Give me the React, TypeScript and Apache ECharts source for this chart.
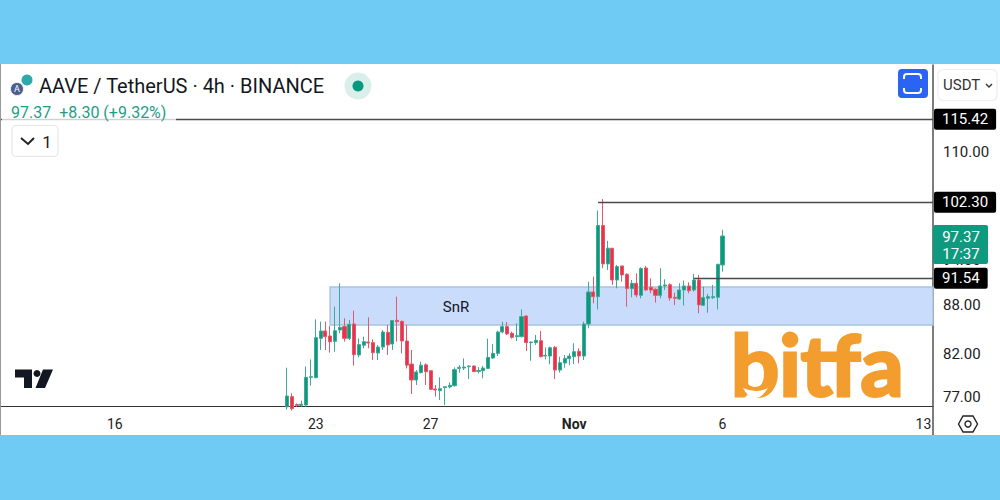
import React, { useEffect, useRef } from "react";
import * as echarts from "echarts";

const FONT = "Roboto, sans-serif";
const GREEN = "#0a9a80";
const RED = "#ee2f47";
const GREEN_WICK = "#3fa996";
const RED_WICK = "#e2596c";

const tickLabels: Record<number, string> = { 24: "16", 66: "23", 90: "27", 120: "Nov", 151: "6", 193: "13" };
const slotCount = 196;
const firstCandleSlot = 60;
const categories = Array.from({ length: slotCount }, (_, i) => tickLabels[i] ?? "");

const priceTicks = [77, 82, 88, 94, 110];
const levelAll = 115.42;
const levelHigh = 102.3;
const levelMid = 91.54;
const zoneTop = 90.4;
const zoneBottom = 85.52;
const zoneStartSlot = 69;
const levelHighSlot = 125;
const levelMidSlot = 145;

const opens = [75.9, 77.04, 76.15, 76.05, 76.1, 79.24, 79.2, 83.87, 84.78, 84.16, 83.51, 84.9, 85.32, 83.87, 85.65, 81.86, 83.03, 83.43, 83.35, 82.1, 82.82, 84.61, 83.19, 86.11, 85.98, 83.55, 80.79, 78.93, 79.78, 80.7, 80.01, 77.9, 77.71, 78.06, 78.13, 78.28, 80.28, 80.32, 80.48, 80.56, 79.92, 80.01, 80.28, 81.5, 82.06, 84.65, 85.32, 84.49, 84.08, 84.08, 86.65, 83.35, 83.35, 83.59, 81.74, 81.74, 82.78, 80.09, 80.91, 81.42, 81.66, 82.3, 81.74, 85.65, 89.74, 89.13, 98.87, 93.49, 95.65, 91.32, 93.21, 92.09, 90.18, 90.88, 89.3, 92.94, 90.35, 90.09, 89.3, 90.53, 90.7, 89.05, 88.83, 90.0, 90.53, 90.0, 91.32, 88.02, 88.92, 89.0, 89.05, 93.35];
const closes = [77.11, 75.7, 76.05, 76.2, 79.24, 79.32, 83.96, 84.78, 84.08, 83.47, 84.82, 85.23, 83.87, 85.61, 81.9, 83.11, 83.47, 83.31, 82.14, 82.82, 84.65, 83.07, 86.07, 85.94, 83.55, 80.66, 78.93, 79.86, 80.66, 79.9, 77.87, 77.79, 77.94, 78.17, 78.32, 80.13, 80.4, 80.44, 80.56, 79.9, 80.02, 80.32, 81.58, 82.06, 84.65, 85.32, 84.41, 84.0, 84.2, 86.57, 83.35, 83.43, 83.63, 81.66, 81.82, 82.74, 80.09, 80.95, 81.46, 81.74, 82.26, 81.74, 85.65, 89.74, 89.13, 98.87, 93.49, 95.65, 91.32, 93.12, 92.0, 90.18, 90.88, 89.35, 92.85, 90.0, 90.0, 89.3, 90.53, 90.66, 88.96, 88.92, 90.0, 90.53, 89.91, 91.32, 88.06, 89.0, 89.13, 89.13, 93.44, 97.37];
const lows = [75.6, 75.5, 75.9, 75.9, 75.9, 78.28, 79.12, 82.46, 82.46, 82.14, 82.26, 84.49, 83.47, 83.67, 80.6, 81.58, 82.66, 82.66, 81.26, 81.26, 82.46, 81.86, 82.46, 83.47, 82.06, 80.28, 77.34, 78.36, 79.7, 78.36, 77.79, 77.04, 76.66, 76.1, 77.98, 78.17, 79.78, 80.09, 79.04, 79.86, 79.7, 79.12, 80.2, 81.42, 81.74, 84.49, 84.28, 83.83, 83.55, 84.0, 82.34, 81.18, 83.07, 81.58, 81.34, 80.75, 79.04, 79.78, 80.36, 80.66, 80.79, 80.87, 81.26, 85.11, 88.27, 87.5, 92.9, 92.67, 90.66, 90.22, 91.1, 87.84, 89.05, 89.05, 88.92, 89.91, 89.57, 88.36, 88.92, 90.0, 88.6, 88.06, 88.7, 87.97, 89.57, 89.78, 87.0, 87.93, 87.07, 88.83, 87.5, 92.45];
const highs = [80.36, 77.41, 76.29, 76.59, 80.48, 81.34, 86.23, 85.94, 85.94, 85.4, 87.84, 90.88, 86.36, 86.15, 87.33, 83.87, 84.08, 86.48, 83.75, 83.07, 84.9, 85.53, 86.15, 89.13, 86.07, 85.53, 82.46, 80.09, 81.07, 80.87, 80.01, 78.36, 79.24, 78.17, 78.66, 80.4, 80.66, 81.46, 80.63, 80.6, 80.44, 80.56, 83.83, 83.19, 84.82, 85.94, 85.9, 84.7, 85.73, 87.49, 86.73, 83.47, 84.29, 84.78, 82.78, 82.86, 82.94, 81.66, 81.86, 82.06, 83.27, 82.66, 85.94, 91.1, 91.77, 101.06, 102.76, 96.68, 95.65, 93.35, 93.21, 92.22, 91.32, 92.22, 93.03, 93.21, 91.55, 90.22, 92.9, 91.41, 90.88, 89.65, 90.88, 91.23, 91.01, 92.13, 92.0, 90.44, 89.48, 90.66, 93.49, 98.25];

const candleData = opens.map((o, i) => [firstCandleSlot + i, o, closes[i], lows[i], highs[i]]);

const titleText = "AAVE / TetherUS · 4h · BINANCE";
const quoteText = "97.37  +8.30 (+9.32%)";
const currentPrice = "97.37";
const countdown = "17:37";

echarts.graphic.registerShape(
  "brackets",
  echarts.graphic.extendPath(
    "M904 79 V77 Q904 74 907 74 H918 Q921 74 921 77 V79 M904 88 V90 Q904 93 907 93 H918 Q921 93 921 90 V88",
    {}
  )
);
echarts.graphic.registerShape(
  "tvmark",
  echarts.graphic.extendPath(
    "M15 369.5 H32 V388 H24 V377.5 H15 Z M43 369.5 H53 L45 388 H35.5 Z M37 370 A3.5 3.5 0 1 1 36.99 370 Z",
    {}
  )
);
echarts.graphic.registerShape(
  "smile",
  echarts.graphic.extendPath("M743 388 Q756 394 768 388 Q762 398 755 398 Q748 398 743 388 Z", {})
);

const tag = (text: string) => ({
  formatter: text,
  position: "end" as const,
  distance: 1,
  color: "#fff",
  backgroundColor: "#000",
  fontFamily: FONT,
  fontSize: 15,
  padding: [3, 8, 3, 8],
  borderRadius: 2,
});

const hLine = { color: "#4a4a4a", width: 1.4, type: "solid" as const };

function buildOption() {
  return {
    animation: false,
    backgroundColor: "transparent",
    grid: { left: 0, width: 933, top: 65, height: 341.5 },
    xAxis: {
      type: "category",
      data: categories,
      boundaryGap: false,
      axisLine: { show: true, lineStyle: { color: "#333", width: 1.2 } },
      axisTick: { show: false },
      splitLine: { show: false },
      axisLabel: {
        interval: (i: number) => tickLabels[i] !== undefined,
        margin: 10,
        fontFamily: FONT,
        fontSize: 14,
        color: "#222",
        formatter: (v: string) => (v === "Nov" ? "{b|Nov}" : v),
        rich: { b: { fontWeight: "bold", fontFamily: FONT, fontSize: 14, color: "#222" } },
      },
    },
    yAxis: {
      type: "log",
      logBase: 10,
      position: "right",
      min: 75.94,
      max: 124.94,
      axisLine: { show: true, onZero: false, lineStyle: { color: "#5c5c5c", width: 1.6 } },
      axisTick: { show: false },
      splitLine: { show: false },
      minorTick: { show: false },
      axisLabel: {
        customValues: priceTicks,
        margin: 10,
        align: "left",
        fontFamily: FONT,
        fontSize: 15,
        padding: [3, 0, 0, 0],
        color: "#222",
        formatter: (v: number) => v.toFixed(2),
      },
    },
    series: [
      {
        type: "candlestick",
        barWidth: 3.6,
        encode: { x: 0, y: [1, 2, 3, 4] },
        data: candleData,
        itemStyle: { color: GREEN, color0: RED, borderColor: GREEN_WICK, borderColor0: RED_WICK, borderWidth: 1 },
        markArea: {
          silent: true,
          itemStyle: { color: "#c9dcfb", borderColor: "#a8c2df", borderWidth: 1.5 },
          data: [[{ xAxis: zoneStartSlot, yAxis: zoneTop }, { xAxis: slotCount - 1, yAxis: zoneBottom }]],
        },
        markLine: {
          silent: true,
          symbol: "none",
          lineStyle: hLine,
          data: [
            [
              { coord: [0, levelAll], label: tag(levelAll.toFixed(2)) },
              { coord: [slotCount - 1, levelAll] },
            ],
            [
              { coord: [levelHighSlot, levelHigh], label: tag(levelHigh.toFixed(2)) },
              { coord: [slotCount - 1, levelHigh] },
            ],
            [
              { coord: [levelMidSlot, levelMid], label: tag(levelMid.toFixed(2)) },
              { coord: [slotCount - 1, levelMid] },
            ],
          ],
        },
      },
    ],
    graphic: { elements: chrome() },
  };
}

function chrome() {
  const z = 50;
  const line = { stroke: "#4a4a4a", lineWidth: 2, fill: "none" };
  return [
    { type: "line", z, shape: { x1: 0.5, y1: 64, x2: 0.5, y2: 435 }, style: { stroke: "#999", lineWidth: 1 } },
    { type: "line", z, shape: { x1: 933, y1: 406, x2: 933, y2: 435 }, style: { stroke: "#5c5c5c", lineWidth: 1.6 } },
    // header
    { type: "circle", z, shape: { cx: 27, cy: 80, r: 5.5 }, style: { fill: "#2ea8a8" } },
    { type: "circle", z, shape: { cx: 17, cy: 89, r: 6.5 }, style: { fill: "#4b5f8e", stroke: "#fff", lineWidth: 0.8 } },
    { type: "text", z, style: { text: "A", x: 17, y: 89, align: "center", verticalAlign: "middle", fontFamily: FONT, fontSize: 9, fill: "#fff" } },
    { type: "text", z, style: { text: titleText, x: 39, y: 85.5, verticalAlign: "middle", fontFamily: FONT, fontSize: 20, fill: "#131722" } },
    { type: "rect", z, shape: { x: 2, y: 117.5, width: 174, height: 3.5 }, style: { fill: "#fff", opacity: 0.75 } },
    { type: "text", z, style: { text: quoteText, x: 11, y: 112, verticalAlign: "middle", fontFamily: FONT, fontSize: 16, fill: "#1f9c85" } },
    { type: "circle", z, shape: { cx: 358, cy: 86, r: 13.5 }, style: { fill: "#daeeea" } },
    { type: "circle", z, shape: { cx: 358, cy: 86, r: 5.5 }, style: { fill: "#089981" } },
    // collapse button
    { type: "rect", z, shape: { x: 12, y: 125.5, width: 46, height: 31, r: 4 }, style: { fill: "#fff", stroke: "#e4e6ea", lineWidth: 1.2 } },
    { type: "polyline", z, shape: { points: [[21, 138], [28, 144], [34, 138]] }, style: { ...line, stroke: "#222" } },
    { type: "text", z, style: { text: "1", x: 47, y: 141.5, align: "center", verticalAlign: "middle", fontFamily: FONT, fontSize: 17, fill: "#222" } },
    // top right buttons
    { type: "rect", z, shape: { x: 898, y: 69, width: 30, height: 29, r: 4 }, style: { fill: "#2b64f3" } },
    { type: "brackets", z, style: { fill: "none", stroke: "#fff", lineWidth: 2 } },
    { type: "rect", z, shape: { x: 938, y: 69.5, width: 59, height: 31, r: 5 }, style: { fill: "#fff", stroke: "#eceef1", lineWidth: 1.2 } },
    { type: "text", z, style: { text: "USDT", x: 943, y: 85, verticalAlign: "middle", fontFamily: FONT, fontSize: 15, fill: "#333" } },
    { type: "polyline", z, shape: { points: [[986, 84], [989, 87], [992, 84]] }, style: { ...line, stroke: "#333", lineWidth: 1.4 } },
    // zone label
    { type: "text", z, style: { text: "SnR", x: 456, y: 307, align: "center", verticalAlign: "middle", fontFamily: FONT, fontSize: 15, fill: "#131722" } },
    // current price tag
    { type: "rect", z, shape: { x: 933, y: 225, width: 55, height: 39, r: 2 }, style: { fill: "#0f9a80" } },
    { type: "text", z, style: { text: currentPrice, x: 961, y: 237, align: "center", verticalAlign: "middle", fontFamily: FONT, fontSize: 15, fill: "#fff" } },
    { type: "text", z, style: { text: countdown, x: 961, y: 254, align: "center", verticalAlign: "middle", fontFamily: FONT, fontSize: 15, fill: "#fff" } },
    // brand marks
    { type: "tvmark", z, style: { fill: "#131722" } },
    { type: "text", z, style: { text: "bitfa", x: 731, y: 405, verticalAlign: "bottom", fontFamily: "Lato, sans-serif", fontWeight: "bold", fontSize: 85, fill: "#f39d2e", stroke: "#f39d2e", lineWidth: 3 } },
    { type: "smile", z: z + 1, style: { fill: "#fff" } },
    // settings icon
    { type: "polygon", z, shape: { points: [[958.5, 424], [963, 416], [973, 416], [977.5, 424], [973, 432], [963, 432]] }, style: { fill: "none", stroke: "#222", lineWidth: 1.4 } },
    { type: "circle", z, shape: { cx: 968, cy: 424, r: 3 }, style: { fill: "none", stroke: "#222", lineWidth: 1.4 } },
  ];
}

export default function App() {
  const ref = useRef<HTMLDivElement>(null);
  useEffect(() => {
    if (!ref.current) return;
    const chart = echarts.init(ref.current, undefined, { renderer: "svg" });
    chart.setOption(buildOption());
    return () => chart.dispose();
  }, []);
  return (
    <div style={{ position: "absolute", left: 0, top: 0, width: 1000, height: 500, background: "#6fcbf3", overflow: "hidden" }}>
      <div style={{ position: "absolute", left: 0, top: 64, width: 1000, height: 371, background: "#fff" }} />
      <div ref={ref} style={{ position: "absolute", left: 0, top: 0, width: 1000, height: 500 }} />
    </div>
  );
}
